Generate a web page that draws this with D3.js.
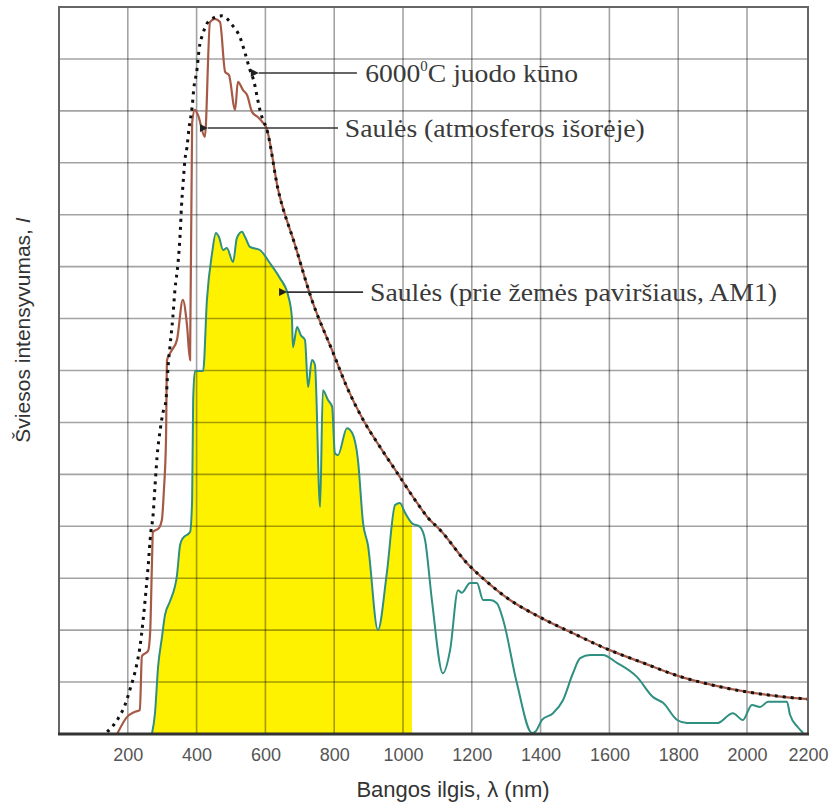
<!DOCTYPE html>
<html><head><meta charset="utf-8">
<script src="https://cdn.jsdelivr.net/npm/d3@7"></script>
<style>html,body{margin:0;padding:0;background:#fff;} svg{display:block}</style>
</head><body>
<svg id="c" width="832" height="804"></svg>
<script>
// ---- data ----
const xTicks = [200,400,600,800,1000,1200,1400,1600,1800,2000,2200];
const xGrid = [200,400,600,800,1000,1200,1400,1600,1800,2000];
const yGrid = [1,2,3,4,5,6,7,8,9,10,11,12,13];

// 6000 °C blackbody (dotted)
const bbWave = [140,172,192,206,227,235,244,253,259,267,273,279,285,294,302,311,317,323,331,337,346,352,356,361,366,372,378,387,392,401,407,419,439,474,506,526,541,555,567,576,584,593,602,637,686,735,797,837,884,933,983,1041,1073,1108,1186,1244,1311,1398,1494,1599,1698,1799,1901,2000,2098,2200];
const bbInt  = [0.04,0.3,0.56,0.85,1.37,1.66,2.16,2.77,3.22,3.89,4.18,4.76,5.33,5.85,6.18,6.43,7.07,7.49,8.03,8.55,9.07,9.61,10.15,10.63,11.05,11.3,11.67,12.07,12.44,12.79,13.17,13.5,13.75,13.83,13.63,13.42,13.11,12.79,12.56,12.27,12.02,11.82,11.69,10.48,9.42,8.36,7.34,6.68,6.05,5.53,5.03,4.45,4.16,3.93,3.29,2.93,2.58,2.25,1.94,1.62,1.37,1.12,0.94,0.81,0.73,0.67];

// Sun outside atmosphere (brown)
const extWave = [169,198,218,235,241,259,265,270,273,291,299,305,311,314,328,343,360,372,381,387,395,404,424,439,453,468,483,494,512,520,535,547,561,578,593,602,637,686,735,797,837,884,933,983,1041,1073,1108,1186,1244,1311,1398,1494,1599,1698,1799,1901,2000,2098,2200];
const extInt  = [0,0.33,0.42,0.46,1.5,1.6,1.96,3.22,3.89,3.97,4.12,4.7,5.66,7.2,7.39,7.59,8.36,7.88,7.2,11.77,12.02,11.92,11.5,13.71,13.77,13.71,12.75,12.69,12.02,12.56,12.4,12.3,11.98,11.88,11.77,11.69,10.48,9.42,8.36,7.34,6.68,6.05,5.53,5.03,4.45,4.16,3.93,3.29,2.93,2.58,2.25,1.94,1.62,1.37,1.12,0.94,0.81,0.73,0.67];

// Sun at Earth's surface, AM1 (green, yellow fill up to fillEnd)
const am1Wave = [270,279,288,299,308,323,343,352,360,381,387,390,395,419,430,445,456,465,477,488,506,517,532,541,555,584,613,642,666,677,680,692,703,715,724,735,744,759,767,782,794,802,811,837,852,869,884,898,927,953,977,991,1006,1026,1049,1064,1084,1116,1137,1160,1171,1195,1215,1233,1253,1273,1291,1331,1375,1384,1404,1436,1465,1494,1515,1544,1581,1622,1680,1727,1756,1797,1826,1913,1959,1988,2016,2043,2069,2131,2141,2167,2184];
const am1Int  = [0,0.4,1.29,1.85,2.29,2.56,3.06,3.64,3.77,3.89,4.51,6.43,6.99,6.99,8.36,9.26,9.65,9.57,9.32,9.36,9.09,9.55,9.67,9.57,9.38,9.32,9.07,8.78,8.45,8.03,7.45,7.84,7.68,7.59,6.68,7.2,7.11,4.37,6.62,6.43,6.3,5.41,5.37,5.89,5.8,5.28,4.06,3.64,2.0,3.1,4.41,4.45,4.26,4.06,3.99,3.74,2.58,1.17,1.62,2.77,2.72,2.91,2.91,2.58,2.58,2.52,2.2,0.98,0.02,0.04,0.27,0.4,0.65,1.17,1.46,1.52,1.52,1.37,1.1,0.71,0.6,0.27,0.21,0.21,0.4,0.27,0.56,0.52,0.62,0.62,0.37,0.13,0.02];
const fillEnd = 1026;

// annotation labels (data coordinates of arrow tip, line start, text start, level)
const annLabels = ["6000", "Saulės (atmosferos išorėje)", "Saulės (prie žemės paviršiaus, AM1)"];
const annTip    = [578, 430, 660];
const annLine   = [866, 811, 884];
const annText   = [890, 831, 904];
const annLevel  = [12.73, 11.67, 8.51];

// ---- drawing ----
const svg = d3.select("#c");
const L = 59, R = 808, T = 7, B = 734;
const x = d3.scaleLinear().domain([0, 2000, 2200]).range([L, 747, R]);
const y = d3.scaleLinear().domain([0, 14]).range([B, T]);

svg.append("rect").attr("width", 832).attr("height", 804).attr("fill", "#fff");
svg.append("defs").append("clipPath").attr("id", "clip")
  .append("rect").attr("x", L).attr("y", T).attr("width", R - L).attr("height", B - T);

const plot = svg.append("g").attr("clip-path", "url(#clip)");

// yellow fill
const am1 = am1Wave.map((w, i) => [w, am1Int[i]]);
const fillPts = am1.filter(d => d[0] <= fillEnd);
plot.append("path").datum(fillPts)
  .attr("fill", "#fff200")
  .attr("d", d3.area().x(d => x(d[0])).y0(y(0)).y1(d => y(d[1])).curve(d3.curveMonotoneX));

// grid
plot.append("g").selectAll("line").data(xGrid).join("line")
  .attr("x1", d => x(d)).attr("x2", d => x(d)).attr("y1", T).attr("y2", B)
  .attr("stroke", "#000").attr("stroke-opacity", 0.36).attr("stroke-width", 1.6);
plot.append("g").selectAll("line").data(yGrid).join("line")
  .attr("y1", d => y(d)).attr("y2", d => y(d)).attr("x1", L).attr("x2", R)
  .attr("stroke", "#000").attr("stroke-opacity", 0.36).attr("stroke-width", 1.6);

// curves
const line = d3.line().x(d => x(d[0])).y(d => y(d[1])).curve(d3.curveMonotoneX);
plot.append("path").datum(am1)
  .attr("fill", "none").attr("stroke", "#2f8f80").attr("stroke-width", 2).attr("d", line);
plot.append("path").datum(extWave.map((w, i) => [w, extInt[i]]))
  .attr("fill", "none").attr("stroke", "#a65a46").attr("stroke-width", 2.2).attr("d", line);
plot.append("path").datum(bbWave.map((w, i) => [w, bbInt[i]]))
  .attr("fill", "none").attr("stroke", "#111").attr("stroke-width", 3)
  .attr("stroke-dasharray", "3 5").attr("d", line);

// frame
svg.append("rect").attr("x", L).attr("y", T).attr("width", R - L).attr("height", B - T)
  .attr("fill", "none").attr("stroke", "#666").attr("stroke-width", 2);
svg.append("line").attr("x1", L - 1).attr("x2", R + 1).attr("y1", B).attr("y2", B)
  .attr("stroke", "#333").attr("stroke-width", 3);

// x axis tick labels
const ax = svg.append("g").attr("transform", `translate(0,${B})`)
  .call(d3.axisBottom(x).tickValues(xTicks).tickSize(0).tickPadding(14).tickFormat(d3.format("d")));
ax.select(".domain").remove();
ax.selectAll("text").attr("font-family", "Liberation Sans, Arial, sans-serif")
  .attr("font-size", 18).attr("fill", "#555");

// axis titles
svg.append("text").attr("x", 453).attr("y", 797).attr("text-anchor", "middle")
  .attr("font-family", "Liberation Sans, Arial, sans-serif").attr("font-size", 22).attr("fill", "#333")
  .text("Bangos ilgis, λ (nm)");
const yl = svg.append("text").attr("transform", "translate(30,330) rotate(-90)").attr("text-anchor", "middle")
  .attr("font-family", "Liberation Sans, Arial, sans-serif").attr("font-size", 21).attr("fill", "#333");
yl.append("tspan").text("Šviesos intensyvumas, ");
yl.append("tspan").attr("font-style", "italic").text("I");

// annotations
svg.append("defs").append("marker").attr("id", "arr").attr("viewBox", "0 0 10 10")
  .attr("refX", 0).attr("refY", 5).attr("markerWidth", 10).attr("markerHeight", 8)
  .attr("markerUnits", "userSpaceOnUse").attr("orient", "auto-start-reverse")
  .append("path").attr("d", "M0,5 L10,0 L10,10 Z").attr("fill", "#222");
const annWidths = [213, 300, 407];
annLabels.forEach((lab, i) => {
  const yy = y(annLevel[i]);
  svg.append("line").attr("x1", x(annTip[i]) + 1).attr("x2", x(annLine[i])).attr("y1", yy).attr("y2", yy)
    .attr("stroke", "#333").attr("stroke-width", 1.6).attr("marker-start", "url(#arr)");
  const t = svg.append("text").attr("x", x(annText[i])).attr("y", yy + 9)
    .attr("font-family", "Liberation Serif, Times New Roman, serif").attr("font-size", 26).attr("fill", "#3a3a3a")
    .attr("textLength", annWidths[i]).attr("lengthAdjust", "spacingAndGlyphs");
  if (i === 0) {
    t.append("tspan").text("6000");
    t.append("tspan").attr("font-size", 14).attr("dy", -11).text("0");
    t.append("tspan").attr("dy", 11).text("C juodo kūno");
  } else {
    t.text(lab);
  }
});
</script>
</body></html>
